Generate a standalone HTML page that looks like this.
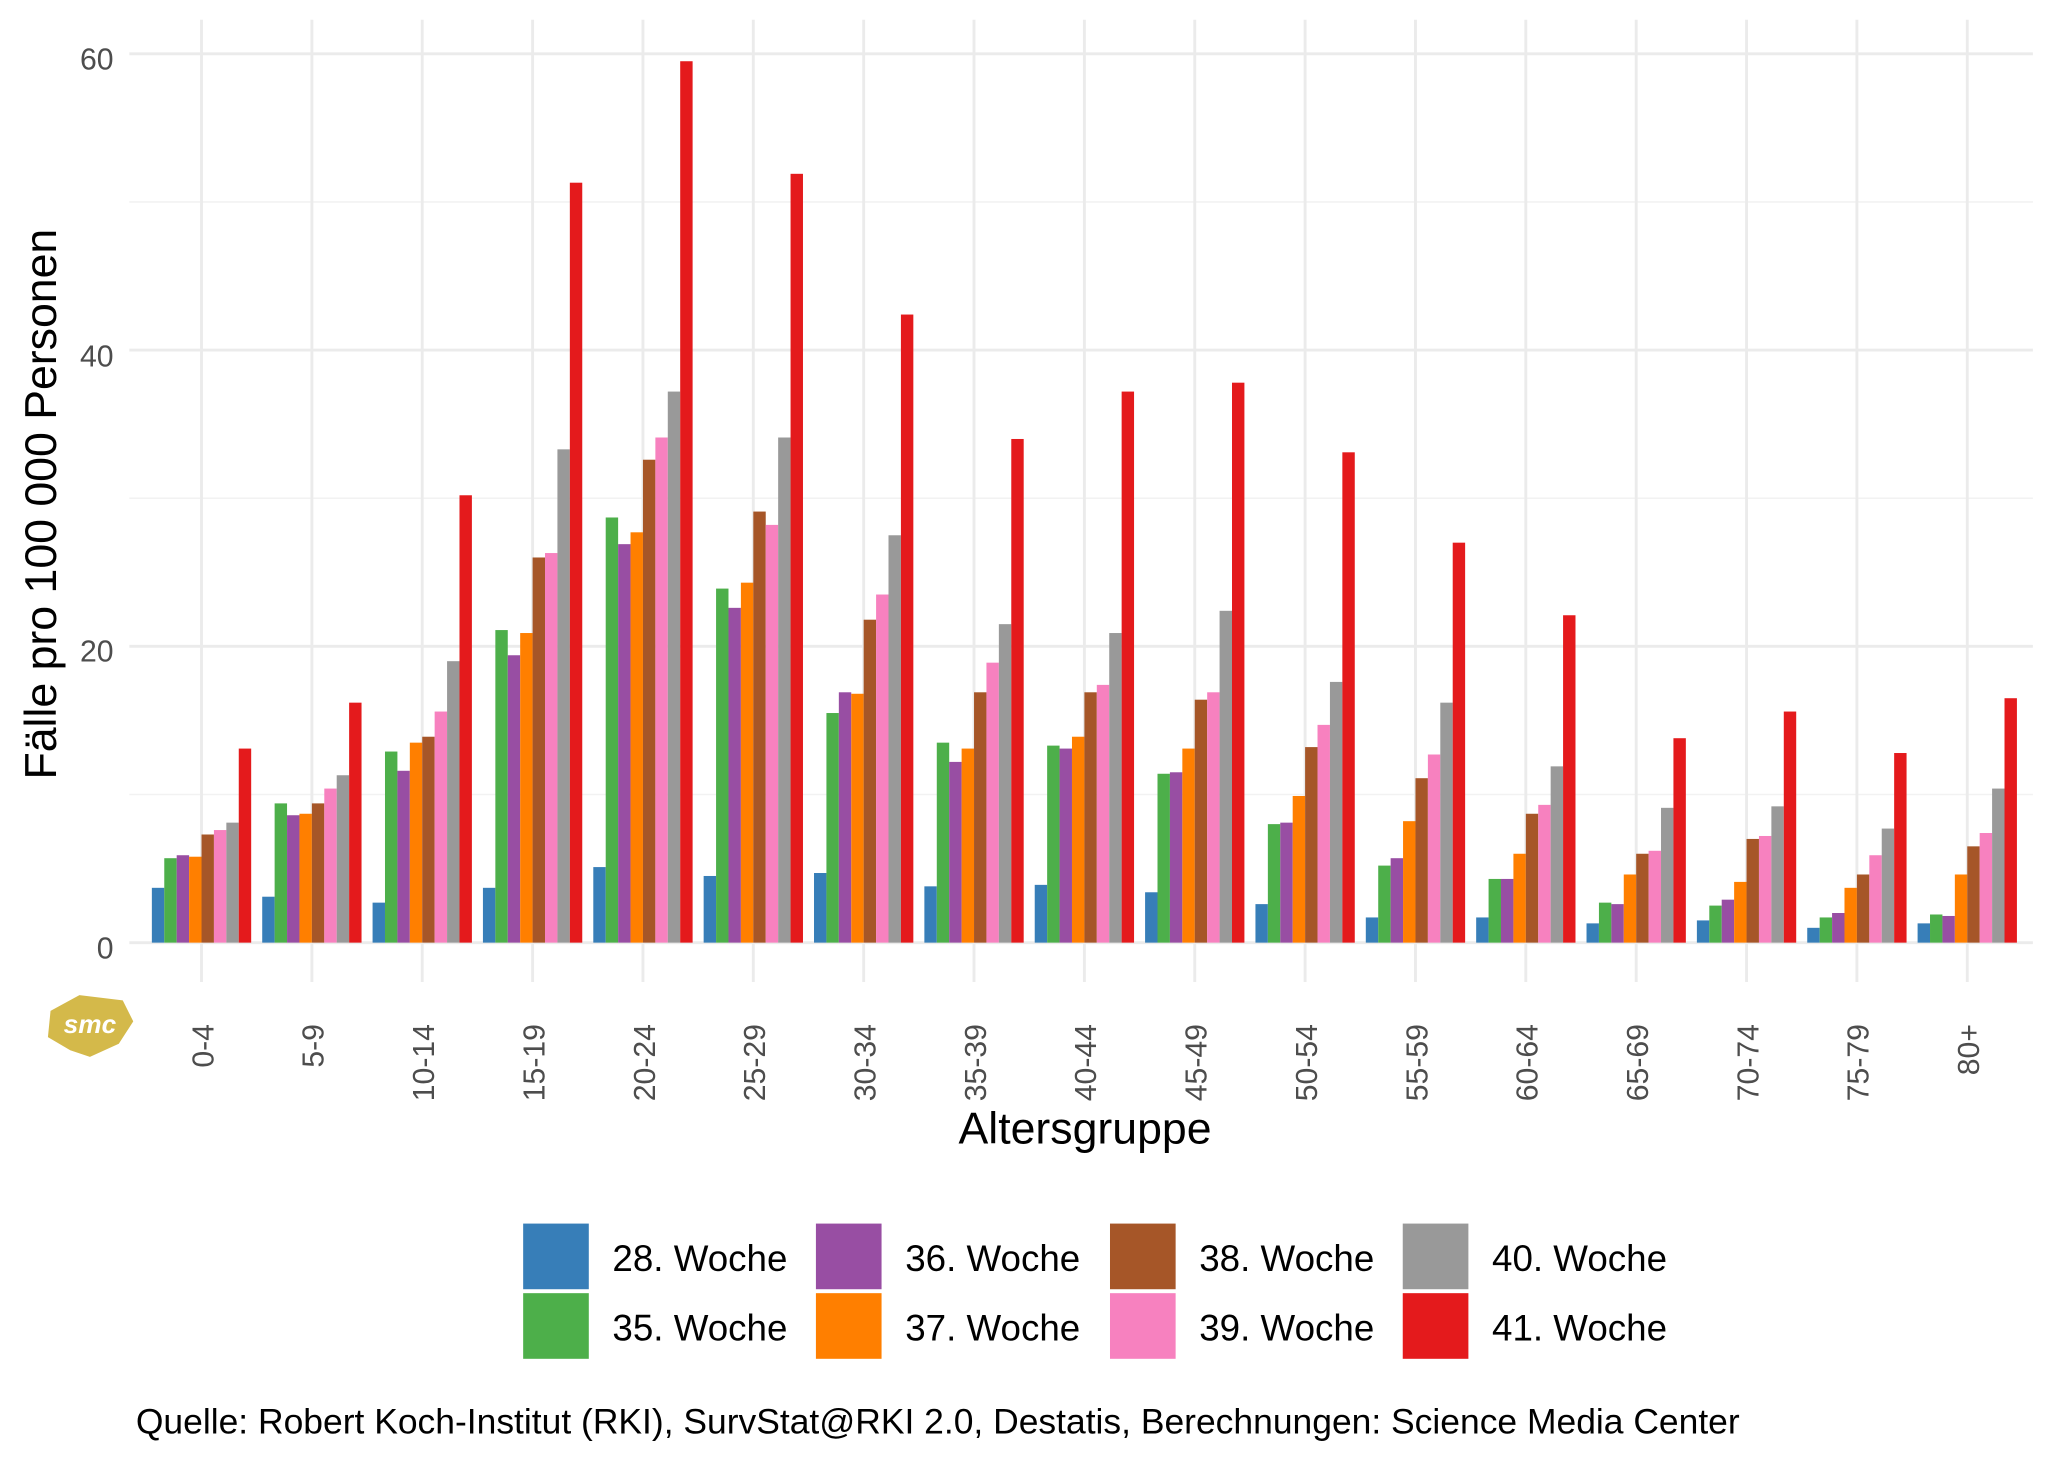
<!DOCTYPE html>
<html><head><meta charset="utf-8"><style>
html,body{margin:0;padding:0;background:#fff;}
svg{display:block;}
text{font-family:"Liberation Sans",sans-serif;}
</style></head><body>
<svg width="2048" height="1462" viewBox="0 0 1560 1113.6" preserveAspectRatio="none" xmlns="http://www.w3.org/2000/svg">
<g transform="translate(-1.5,-4)">
<g id="grid"></g>
<g id="bars"></g>
<g font-size="23" fill="#4d4d4d" text-anchor="end">
<text x="88" y="57">60</text>
<text x="88" y="283">40</text>
<text x="88" y="508">20</text>
<text x="88" y="734">0</text>
</g>
<g id="xl" font-size="23" fill="#4d4d4d"></g>
<text x="828" y="875" font-size="34" text-anchor="middle" fill="#000">Altersgruppe</text>
<text transform="translate(44,388) rotate(-90)" font-size="34" text-anchor="middle" fill="#000">Fälle pro 100 000 Personen</text>
<g id="leg" font-size="28" fill="#000"></g>
<text x="105" y="1096" font-size="27" fill="#000">Quelle: Robert Koch-Institut (RKI), SurvStat@RKI 2.0, Destatis, Berechnungen: Science Media Center</text>
<g>
<polygon points="40,774 62,762 95,766 103,782 92,799 70,809 55,804 38,794" fill="#d4b94a"/>
<text x="70" y="791" font-size="20" font-weight="bold" fill="#fff" text-anchor="middle" font-style="italic">smc</text>
</g>
</g>
</svg>
<script>
var NS="http://www.w3.org/2000/svg";
function el(p,t,a,txt){var e=document.createElementNS(NS,t);for(var k in a)e.setAttribute(k,a[k]);if(txt)e.textContent=txt;document.getElementById(p).appendChild(e);return e;}
var y0=722,k=(722-45)/60;
function Y(v){return y0-v*k;}
[10,30,50].forEach(function(v){el("grid","line",{x1:100,x2:1550,y1:Y(v),y2:Y(v),stroke:"#f2f2f2","stroke-width":1.2});});
[0,20,40,60].forEach(function(v){el("grid","line",{x1:100,x2:1550,y1:Y(v),y2:Y(v),stroke:"#ebebeb","stroke-width":2.2});});
var groups=["0-4","5-9","10-14","15-19","20-24","25-29","30-34","35-39","40-44","45-49","50-54","55-59","60-64","65-69","70-74","75-79","80+"];
var step=(1500-155)/16;
groups.forEach(function(g,i){var cx=155+i*step;el("grid","line",{x1:cx,x2:cx,y1:19,y2:752,stroke:"#ebebeb","stroke-width":2.2});
el("xl","text",{transform:"translate("+(cx+9)+",784) rotate(-90)","text-anchor":"end"},g);});
var cols=["#377EB8","#4DAF4A","#984EA3","#FF7F00","#A65628","#F781BF","#999999","#E41A1C"];
var D=[[3.7,5.7,5.9,5.8,7.3,7.6,8.1,13.1],[3.1,9.4,8.6,8.7,9.4,10.4,11.3,16.2],[2.7,12.9,11.6,13.5,13.9,15.6,19.0,30.2],[3.7,21.1,19.4,20.9,26.0,26.3,33.3,51.3],[5.1,28.7,26.9,27.7,32.6,34.1,37.2,59.5],[4.5,23.9,22.6,24.3,29.1,28.2,34.1,51.9],[4.7,15.5,16.9,16.8,21.8,23.5,27.5,42.4],[3.8,13.5,12.2,13.1,16.9,18.9,21.5,34.0],[3.9,13.3,13.1,13.9,16.9,17.4,20.9,37.2],[3.4,11.4,11.5,13.1,16.4,16.9,22.4,37.8],[2.6,8.0,8.1,9.9,13.2,14.7,17.6,33.1],[1.7,5.2,5.7,8.2,11.1,12.7,16.2,27.0],[1.7,4.3,4.3,6.0,8.7,9.3,11.9,22.1],[1.3,2.7,2.6,4.6,6.0,6.2,9.1,13.8],[1.5,2.5,2.9,4.1,7.0,7.2,9.2,15.6],[1.0,1.7,2.0,3.7,4.6,5.9,7.7,12.8],[1.3,1.9,1.8,4.6,6.5,7.4,10.4,16.5]];
var bw=step*0.9/8;
D.forEach(function(r,i){var cx=155+i*step;r.forEach(function(v,j){var x=cx-step*0.45+j*bw;el("bars","rect",{x:x,y:Y(v),width:bw,height:v*k,fill:cols[j]});});});
var L=[["28. Woche",0],["35. Woche",1],["36. Woche",2],["37. Woche",3],["38. Woche",4],["39. Woche",5],["40. Woche",6],["41. Woche",7]];
var lx=[400,623,847,1070];
L.forEach(function(l,i){var c=Math.floor(i/2),r=i%2;var x=lx[c],y=936+r*53;
el("leg","rect",{x:x,y:y,width:50,height:50,fill:cols[l[1]]});
el("leg","text",{x:x+68,y:y+36},l[0]);});
</script>
</body></html>
